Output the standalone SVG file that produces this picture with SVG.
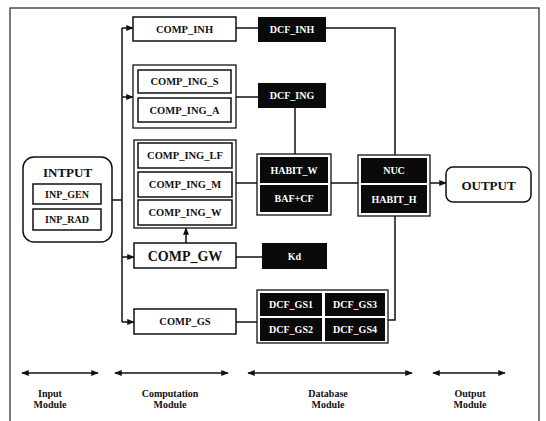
<svg xmlns="http://www.w3.org/2000/svg" width="546" height="421" viewBox="0 0 546 421">
<defs>
<style>
.frame{fill:none;stroke:#222;stroke-width:1.2}
.box{fill:#fff;stroke:#111;stroke-width:1.5}
.obox{fill:#fff;stroke:#111;stroke-width:1.3}
.blk{fill:#0a0a0a;stroke:none}
.ln{fill:none;stroke:#111;stroke-width:1.5}
.t{font-family:"Liberation Serif",serif;font-weight:bold;font-size:10.5px;fill:#111;text-anchor:middle;dominant-baseline:central}
.tw{font-family:"Liberation Serif",serif;font-weight:bold;font-size:10px;fill:#fff;text-anchor:middle;dominant-baseline:central}
.lab{font-family:"Liberation Serif",serif;font-weight:bold;font-size:10px;fill:#111;text-anchor:middle}
</style>
<marker id="ah" viewBox="0 0 10 10" refX="9" refY="5" markerWidth="5" markerHeight="5" orient="auto-start-reverse">
<path d="M0,1 L10,5 L0,9 Z" fill="#111"/>
</marker>
</defs>
<rect width="546" height="421" fill="#fff"/>
<rect class="frame" x="10" y="8" width="529" height="420"/>

<g id="connectors">
<path class="ln" d="M112,200 H122"/>
<path class="ln" d="M122,28 V322"/>
<path class="ln" d="M122,28 H133" marker-end="url(#ah)"/>
<path class="ln" d="M122,97 H133" marker-end="url(#ah)"/>
<path class="ln" d="M122,257 H134" marker-end="url(#ah)"/>
<path class="ln" d="M122,322 H134" marker-end="url(#ah)"/>
<path class="ln" d="M186,243 V228" marker-end="url(#ah)"/>
<path class="ln" d="M236,28 H258"/>
<path class="ln" d="M236,97 H258"/>
<path class="ln" d="M236,183 H257"/>
<path class="ln" d="M236,257 H262"/>
<path class="ln" d="M236,322 H257"/>
<path class="ln" d="M295,108 V154"/>
<path class="ln" d="M326,28 H395 V155"/>
<path class="ln" d="M331,183 H358"/>
<path class="ln" d="M430,183 H446" marker-end="url(#ah)"/>
<path class="ln" d="M395,216 V320 H388"/>
<path class="ln" d="M22,373 H98" marker-start="url(#ah)" marker-end="url(#ah)"/>
<path class="ln" d="M115,373 H228" marker-start="url(#ah)" marker-end="url(#ah)"/>
<path class="ln" d="M248,373 H412" marker-start="url(#ah)" marker-end="url(#ah)"/>
<path class="ln" d="M433,373 H505" marker-start="url(#ah)" marker-end="url(#ah)"/>
</g>

<g id="input">
<rect class="box" x="23" y="157" width="89" height="85" rx="11"/>
<text class="t" x="67.5" y="172" style="font-size:13px">INTPUT</text>
<rect class="box" x="33" y="184" width="68" height="20"/>
<text class="t" x="67" y="194" style="font-size:10px">INP_GEN</text>
<rect class="box" x="33" y="209" width="68" height="21"/>
<text class="t" x="67" y="219.5" style="font-size:10px">INP_RAD</text>
</g>

<g id="comp_inh">
<rect class="box" x="133" y="17" width="103" height="24"/>
<text class="t" x="184.5" y="29">COMP_INH</text>
</g>

<g id="comp_ing_sa">
<rect class="obox" x="133" y="65" width="103" height="63"/>
<rect class="box" x="138" y="70" width="93" height="23"/>
<text class="t" x="184.5" y="81.5">COMP_ING_S</text>
<rect class="box" x="138" y="98" width="93" height="24"/>
<text class="t" x="184.5" y="110">COMP_ING_A</text>
</g>

<g id="comp_ing_lmw">
<rect class="obox" x="134" y="140" width="102" height="88"/>
<rect class="box" x="138" y="143" width="94" height="25"/>
<text class="t" x="185" y="155.5">COMP_ING_LF</text>
<rect class="box" x="138" y="172" width="94" height="25"/>
<text class="t" x="185" y="184.5">COMP_ING_M</text>
<rect class="box" x="138" y="200" width="94" height="25"/>
<text class="t" x="185" y="212.5">COMP_ING_W</text>
</g>

<g id="comp_gw">
<rect class="box" x="134" y="243" width="102" height="25"/>
<text class="t" x="185" y="256" style="font-size:14px">COMP_GW</text>
</g>

<g id="comp_gs">
<rect class="box" x="134" y="309" width="102" height="25"/>
<text class="t" x="185" y="321.5">COMP_GS</text>
</g>

<g id="dcf_inh">
<rect class="blk" x="258" y="17" width="68" height="25"/>
<text class="tw" x="292" y="29.5">DCF_INH</text>
</g>

<g id="dcf_ing">
<rect class="blk" x="258" y="83" width="68" height="25"/>
<text class="tw" x="292" y="95.5">DCF_ING</text>
</g>

<g id="habit_w">
<rect class="obox" x="257" y="154" width="74" height="61"/>
<rect class="blk" x="260" y="157" width="68" height="26"/>
<text class="tw" x="294" y="170">HABIT_W</text>
<rect class="blk" x="260" y="185" width="68" height="27"/>
<text class="tw" x="294" y="198.5">BAF+CF</text>
</g>

<g id="kd">
<rect class="blk" x="262" y="243" width="65" height="26"/>
<text class="tw" x="294.5" y="256">Kd</text>
</g>

<g id="dcf_gs">
<rect class="obox" x="257" y="290" width="131" height="53"/>
<rect class="blk" x="260" y="293" width="62" height="23"/>
<text class="tw" x="291" y="304.5">DCF_GS1</text>
<rect class="blk" x="325" y="293" width="60" height="23"/>
<text class="tw" x="355" y="304.5">DCF_GS3</text>
<rect class="blk" x="260" y="318" width="62" height="23"/>
<text class="tw" x="291" y="329.5">DCF_GS2</text>
<rect class="blk" x="325" y="318" width="60" height="23"/>
<text class="tw" x="355" y="329.5">DCF_GS4</text>
</g>

<g id="nuc">
<rect class="obox" x="358" y="155" width="72" height="61"/>
<rect class="blk" x="361" y="158" width="66" height="25"/>
<text class="tw" x="394" y="170.5">NUC</text>
<rect class="blk" x="361" y="185" width="66" height="28"/>
<text class="tw" x="394" y="199">HABIT_H</text>
</g>

<g id="output">
<rect class="box" x="446" y="167" width="85" height="35" rx="7"/>
<text class="t" x="488.5" y="185" style="font-size:13px">OUTPUT</text>
</g>

<g id="labels">
<text class="lab" x="50" y="397">Input</text>
<text class="lab" x="50" y="408">Module</text>
<text class="lab" x="170" y="397">Computation</text>
<text class="lab" x="170" y="408">Module</text>
<text class="lab" x="328" y="397">Database</text>
<text class="lab" x="328" y="408">Module</text>
<text class="lab" x="470" y="397">Output</text>
<text class="lab" x="470" y="408">Module</text>
</g>
</svg>
